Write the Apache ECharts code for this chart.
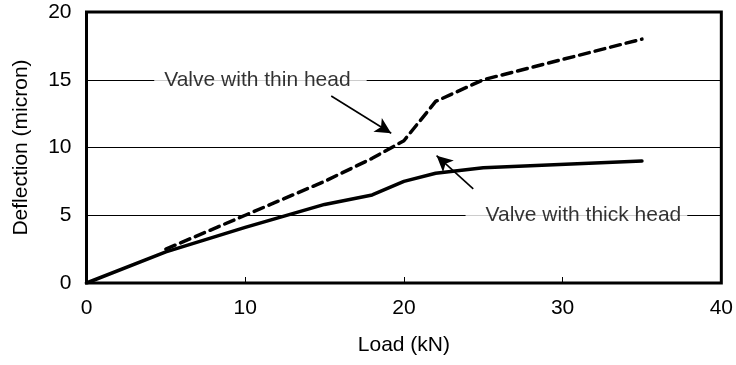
<!DOCTYPE html>
<html>
<head>
<meta charset="utf-8">
<script src="https://cdn.jsdelivr.net/npm/echarts@6/dist/echarts.min.js"></script>
<style>
  html, body { margin: 0; padding: 0; background: #fff; }
  #chart { width: 736px; height: 365px; }
</style>
</head>
<body>
<div id="chart"></div>
<script>
// Load (kN) vs. deflection (micron) for the two valve designs
const thickLoad = [0, 5, 10, 15, 18, 20, 22, 25, 35];
const thickDeflection = [0, 2.3, 4.1, 5.8, 6.5, 7.5, 8.1, 8.5, 9.0];

const thinLoad = [5, 10, 15, 18, 20, 22, 25, 35];
const thinDeflection = [2.5, 5.0, 7.5, 9.2, 10.5, 13.4, 15.0, 18.0];

// Callout texts, anchored on the gridlines they interrupt
const calloutTexts = ['Valve with thin head', 'Valve with thick head'];
const calloutLoad = [10.96, 30.87];
const calloutDeflection = [15, 5];
const calloutPadding = [[2, 16, 2, 10], [2, 6, 2, 20]];

// Leader arrows: [from, to] in data units
const thinArrow = [[15.42, 13.8], [19.2, 11.05]];
const thickArrow = [[24.37, 6.95], [22.06, 9.4]];

const FONT = '"Liberation Sans", Arial, sans-serif';
const FS = 21;

const pairs = (xs, ys) => xs.map((x, i) => [x, ys[i]]);

const chart = echarts.init(document.getElementById('chart'));
chart.setOption({
  animation: false,
  backgroundColor: '#fff',
  textStyle: { fontFamily: FONT },
  grid: {
    left: 86.5, right: 14, top: 12, bottom: 82,
    show: true, borderColor: '#000', borderWidth: 3,
    backgroundColor: 'transparent'
  },
  xAxis: {
    type: 'value', min: 0, max: 40, interval: 10,
    name: 'Load (kN)', nameLocation: 'middle', nameGap: 52,
    nameTextStyle: { fontFamily: FONT, fontSize: FS, color: '#000' },
    axisLine: { show: false },
    axisTick: { show: true, inside: true, length: 6, lineStyle: { color: '#000', width: 1 } },
    axisLabel: { fontFamily: FONT, fontSize: FS, color: '#000', margin: 15 },
    splitLine: { show: false }
  },
  yAxis: {
    type: 'value', min: 0, max: 20, interval: 5,
    name: 'Deflection (micron)', nameLocation: 'middle', nameGap: 55,
    nameTextStyle: { fontFamily: FONT, fontSize: FS, color: '#000' },
    axisLine: { show: false },
    axisTick: { show: false },
    axisLabel: { fontFamily: FONT, fontSize: FS, color: '#000', margin: 15 },
    splitLine: { show: true, lineStyle: { color: '#000', width: 1.2 } }
  },
  series: [
    {
      name: 'Valve with thick head',
      type: 'line',
      data: pairs(thickLoad, thickDeflection),
      showSymbol: false,
      lineStyle: { color: '#000', width: 3.5, cap: 'round', join: 'round' },
      z: 3
    },
    {
      name: 'Valve with thin head',
      type: 'line',
      data: pairs(thinLoad, thinDeflection),
      showSymbol: false,
      lineStyle: { color: '#000', width: 3.5, type: [10, 6], cap: 'round', join: 'round' },
      z: 3
    },
    {
      name: 'callouts',
      type: 'scatter',
      symbolSize: 0,
      silent: true,
      z: 4,
      data: calloutTexts.map((t, i) => ({
        value: [calloutLoad[i], calloutDeflection[i]],
        name: t,
        label: { padding: calloutPadding[i] }
      })),
      label: {
        show: true,
        position: 'inside',
        formatter: p => p.name,
        fontFamily: FONT,
        fontSize: FS,
        color: '#000',
        backgroundColor: '#fff'
      },
      markLine: {
        silent: true,
        symbol: ['none', 'arrow'],
        symbolSize: [12, 16],
        label: { show: false },
        lineStyle: { color: '#000', width: 1.6, type: 'solid' },
        data: [
          [{ coord: thinArrow[0] }, { coord: thinArrow[1] }],
          [{ coord: thickArrow[0] }, { coord: thickArrow[1] }]
        ]
      }
    }
  ]
});
</script>
</body>
</html>
